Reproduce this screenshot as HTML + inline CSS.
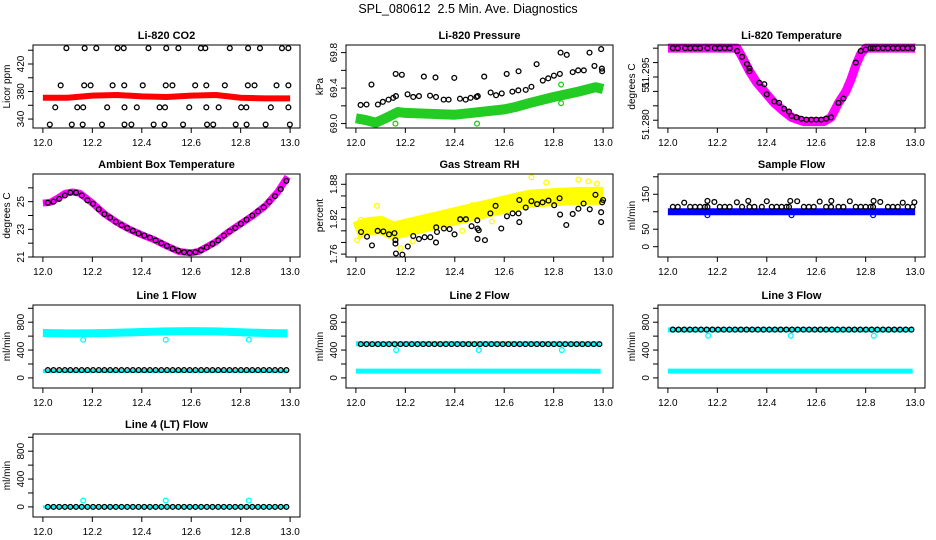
<!DOCTYPE html>
<html><head><meta charset="utf-8"><style>
html,body{margin:0;padding:0;background:#fff;}
svg{display:block;font-family:"Liberation Sans",Arial,sans-serif;}
</style></head><body>
<svg id="c" width="936" height="540" viewBox="0 0 936 540">
<text x="468" y="13" text-anchor="middle" font-size="12.5" style="white-space:pre">SPL_080612  2.5 Min. Ave. Diagnostics</text>
</svg>
<script>
// ---------- data ----------
const xTicks=[12.0,12.2,12.4,12.6,12.8,13.0];
const xTickLabels=["12.0","12.2","12.4","12.6","12.8","13.0"];
const regX=[12.020,12.043,12.066,12.089,12.111,12.134,12.157,12.180,12.203,12.226,12.249,12.272,12.295,12.318,12.341,12.364,12.387,12.410,12.433,12.456,12.479,12.502,12.525,12.548,12.571,12.594,12.617,12.640,12.663,12.686,12.709,12.732,12.755,12.778,12.801,12.824,12.847,12.870,12.893,12.916,12.939,12.962,12.985];

// CO2
const co2BandX=[12.0,12.1,12.2,12.3,12.4,12.5,12.6,12.7,12.8,12.9,13.0];
const co2BandY=[371,371,374,375,373,372,374,375,371,370,370];
const co2PtsX=[12.095,12.169,12.216,12.302,12.327,12.427,12.499,12.548,12.639,12.657,12.756,12.830,12.878,12.967,12.993,
12.072,12.167,12.193,12.282,12.329,12.404,12.497,12.524,12.616,12.661,12.736,12.829,12.856,12.945,12.993,
12.050,12.139,12.163,12.260,12.330,12.380,12.472,12.494,12.592,12.661,12.711,12.802,12.823,12.922,12.993,
12.028,12.117,12.161,12.239,12.330,12.358,12.448,12.492,12.567,12.664,12.689,12.780,12.824,12.901,12.999];
const co2PtsY=[443,443,443,443,443,443,443,443,443,443,443,443,443,443,443,
389,389,389,389,389,389,389,389,389,389,389,389,389,389,389,
357,357,357,357,357,357,357,357,357,357,357,357,357,357,357,
332,332,332,332,332,332,332,332,332,332,332,332,332,332,332];

// Pressure
const presBandX=[12.0,12.04,12.08,12.12,12.17,12.2,12.3,12.4,12.5,12.6,12.65,12.7,12.8,12.9,12.97,13.0];
const presBandY=[69.06,69.04,69.01,69.06,69.13,69.12,69.11,69.10,69.13,69.16,69.19,69.23,69.30,69.36,69.41,69.39];
const presGreenX=[12.16,12.49,12.83,12.83];
const presGreenY=[69.0,69.0,69.23,69.44];
const presPtsX=[12.019,12.043,12.063,12.089,12.109,12.132,12.151,12.162,12.161,12.186,12.209,12.232,12.255,12.275,12.300,12.322,12.324,12.355,12.375,12.398,12.421,12.444,12.464,12.488,12.493,12.519,12.545,12.567,12.590,12.610,12.633,12.657,12.658,12.687,12.710,12.731,12.756,12.778,12.801,12.825,12.828,12.853,12.877,12.899,12.922,12.945,12.965,12.992,12.995,12.996];
const presPtsY=[69.21,69.215,69.44,69.215,69.245,69.27,69.29,69.31,69.56,69.55,69.33,69.30,69.31,69.53,69.315,69.52,69.30,69.27,69.27,69.515,69.28,69.27,69.29,69.30,69.31,69.53,69.35,69.32,69.34,69.56,69.36,69.375,69.59,69.38,69.415,69.67,69.485,69.51,69.54,69.56,69.80,69.775,69.58,69.60,69.60,69.80,69.65,69.84,69.62,69.59];

// Li-820 temperature
const tempBandX=[12.0,12.28,12.30,12.33,12.36,12.40,12.43,12.47,12.50,12.55,12.63,12.66,12.69,12.72,12.74,12.76,12.78,12.80,13.0];
const tempBandY=[51.305,51.305,51.302,51.297,51.293,51.289,51.286,51.283,51.281,51.2795,51.2795,51.281,51.286,51.290,51.294,51.299,51.303,51.305,51.305];
const tempPtsX=[12.02,12.04,12.07,12.09,12.11,12.13,12.16,12.19,12.21,12.23,12.25,12.28,12.30,12.32,12.33,12.33,12.37,12.39,12.40,12.43,12.45,12.47,12.49,12.50,12.52,12.54,12.56,12.58,12.60,12.62,12.64,12.66,12.69,12.71,12.76,12.78,12.80,12.82,12.83,12.85,12.87,12.89,12.91,12.93,12.95,12.97,12.99];
const tempPtsY=[51.305,51.305,51.305,51.305,51.305,51.305,51.305,51.305,51.305,51.305,51.305,51.304,51.302,51.2995,51.298,51.297,51.293,51.2925,51.289,51.2865,51.286,51.284,51.283,51.2815,51.281,51.2805,51.2802,51.2802,51.2802,51.2802,51.2805,51.281,51.286,51.2875,51.300,51.304,51.3045,51.305,51.305,51.305,51.305,51.305,51.305,51.305,51.305,51.305,51.305];

// Ambient box temperature
const ambBandX=[12.0,12.03,12.06,12.09,12.12,12.15,12.2,12.25,12.3,12.35,12.4,12.45,12.5,12.55,12.6,12.63,12.66,12.7,12.75,12.8,12.85,12.9,12.95,12.99];
const ambBandY=[24.9,24.95,25.25,25.6,25.7,25.6,24.9,24.1,23.5,23.0,22.6,22.25,21.8,21.4,21.3,21.4,21.7,22.1,22.8,23.4,24.0,24.7,25.7,26.8];
const ambPtsY=[24.92,25.0,25.2,25.45,25.65,25.65,25.45,25.1,24.85,24.45,24.1,23.85,23.55,23.3,23.1,22.9,22.7,22.55,22.4,22.2,22.0,21.8,21.6,21.45,21.35,21.3,21.35,21.5,21.7,21.95,22.2,22.55,22.85,23.1,23.4,23.7,24.0,24.3,24.6,25.0,25.4,25.9,26.5];

// Gas stream RH
const rhBandX=[12.0,12.05,12.1,12.15,12.2,12.3,12.4,12.5,12.6,12.7,12.8,12.9,13.0];
const rhBandY=[1.800,1.808,1.810,1.800,1.805,1.815,1.825,1.835,1.845,1.855,1.858,1.860,1.860];
const rhYelX=[12.005,12.02,12.085,12.18,12.23,12.30,12.43,12.47,12.55,12.71,12.77,12.90,12.94,12.975];
const rhYelY=[1.784,1.819,1.843,1.770,1.782,1.826,1.800,1.844,1.816,1.892,1.883,1.888,1.885,1.881];
const rhPtsX=[12.021,12.045,12.065,12.088,12.111,12.134,12.156,12.160,12.160,12.162,12.188,12.210,12.232,12.255,12.278,12.301,12.324,12.325,12.328,12.356,12.379,12.399,12.422,12.445,12.468,12.491,12.492,12.497,12.492,12.522,12.544,12.565,12.588,12.611,12.634,12.658,12.661,12.661,12.687,12.710,12.733,12.755,12.779,12.802,12.824,12.826,12.851,12.877,12.900,12.921,12.946,12.969,12.992,12.992,12.996,13.0];
const rhPtsY=[1.798,1.790,1.775,1.800,1.799,1.794,1.796,1.784,1.778,1.761,1.759,1.773,1.791,1.786,1.789,1.789,1.780,1.806,1.798,1.804,1.803,1.794,1.820,1.820,1.808,1.818,1.804,1.801,1.786,1.784,1.830,1.843,1.804,1.825,1.830,1.830,1.815,1.853,1.840,1.851,1.846,1.849,1.852,1.844,1.856,1.828,1.810,1.829,1.838,1.847,1.837,1.862,1.832,1.815,1.849,1.853];

// Sample flow
const sampBandX=[12.0,12.25,12.5,12.75,13.0];
const sampBandY=[100,100,100,100,100];
const sampBlueX=[12.16,12.50,12.83];
const sampBlueY=[90,90,90];
const sampHiX=[12.066,12.160,12.188,12.279,12.325,12.400,12.495,12.523,12.614,12.661,12.736,12.832,12.859,12.950,12.997];
const sampHiY=[126,131,128,127,131,130,131,130,129,131,130,131,128,126,127];
const sampLoX=[12.02,12.04,12.09,12.11,12.13,12.15,12.16,12.21,12.23,12.25,12.30,12.33,12.35,12.38,12.42,12.44,12.46,12.48,12.49,12.55,12.57,12.59,12.64,12.66,12.69,12.71,12.76,12.78,12.80,12.82,12.83,12.89,12.91,12.93,12.97,12.99];
const sampLoY=[114,114,114,114,114,114,114,114,114,114,114,114,114,114,114,114,114,114,114,114,114,114,114,114,114,114,114,114,114,114,114,114,114,114,114,114];

// Line flows
const flowBandX=[12.0,12.1,12.2,12.3,12.4,12.5,12.6,12.7,12.8,12.9,12.99];
const line1HiBand=[645,640,642,648,660,668,672,668,655,645,640];
const line1LoBand=[100,100,100,100,100,100,100,100,100,100,95];
const line1Black=[112,112,112,112,112,112,112,112,112,112,112,112,112,112,112,112,112,112,112,112,112,112,112,112,112,112,112,112,112,112,112,112,112,112,112,112,112,112,112,112,112,112,112];
const line1OutX=[12.163,12.497,12.833];
const line1OutY=[548,548,548];
const line2HiBand=[490,488,490,492,492,492,492,492,490,488,488];
const line2LoBand=[98,98,98,98,98,98,98,98,98,98,95];
const line2Black=[485,485,485,485,485,485,485,485,485,485,485,485,485,485,485,485,485,485,485,485,485,485,485,485,485,485,485,485,485,485,485,485,485,485,485,485,485,485,485,485,485,485,485];
const line2OutX=[12.163,12.497,12.833];
const line2OutY=[400,400,400];
const line3HiBand=[690,690,690,692,692,692,692,690,690,690,690];
const line3LoBand=[98,98,98,98,98,98,98,98,98,98,98];
const line3Black=[694,694,694,694,694,694,694,694,694,694,694,694,694,694,694,694,694,694,694,694,694,694,694,694,694,694,694,694,694,694,694,694,694,694,694,694,694,694,694,694,694,694,694];
const line3OutX=[12.163,12.497,12.833];
const line3OutY=[606,606,606];
const line4Band=[0,0,0,0,0,0,0,0,0,0,0];
const line4Black=[0,0,0,0,0,0,0,0,0,0,0,0,0,0,0,0,0,0,0,0,0,0,0,0,0,0,0,0,0,0,0,0,0,0,0,0,0,0,0,0,0,0,0];
const line4OutX=[12.163,12.497,12.833];
const line4OutY=[92,92,92];

// ---------- drawing ----------
const NS="http://www.w3.org/2000/svg";
const svg=document.getElementById('c');
const COLX=[33,346,658], ROWY=[45,174,305,434], BW=267, BH=83;
function el(tag,parent){const e=document.createElementNS(NS,tag);parent.appendChild(e);return e;}

function makePanel(key,title,col,row,ylim,yTicks,yLabels,yTitle){
  const x0=COLX[col], y0=ROWY[row];
  const g=el('g',svg);
  
  
  const sx=v=>x0+(v-11.96)/1.08*BW;
  const sy=v=>y0+BH-(v-ylim[0])/(ylim[1]-ylim[0])*BH;
  const t=el('text',g);
  
  
  t.setAttribute('x',x0+BW/2);t.setAttribute('y',y0-6);t.setAttribute('text-anchor','middle');
  t.setAttribute('font-size','11');t.setAttribute('font-weight','bold');t.textContent=title;
  const plot=el('g',g);
  
  
  const box=el('rect',g);
  
  
  box.setAttribute('x',x0);box.setAttribute('y',y0);box.setAttribute('width',BW);box.setAttribute('height',BH);
  box.setAttribute('fill','none');box.setAttribute('stroke','#000');box.setAttribute('stroke-width','1');
  const xa=el('g',g);
  
  
  xTicks.forEach((v,i)=>{
    const l=el('line',xa);
    
    
    l.setAttribute('x1',sx(v));l.setAttribute('x2',sx(v));l.setAttribute('y1',y0+BH);l.setAttribute('y2',y0+BH+5);l.setAttribute('stroke','#000');
    const tt=el('text',xa);
    
    
    tt.setAttribute('x',sx(v));tt.setAttribute('y',y0+BH+18);tt.setAttribute('text-anchor','middle');tt.setAttribute('font-size','10');
    tt.textContent=xTickLabels[i];
  });
  const ya=el('g',g);
  
  
  yTicks.forEach(v=>{
    const l=el('line',ya);
    
    
    l.setAttribute('x1',x0);l.setAttribute('x2',x0-5);l.setAttribute('y1',sy(v));l.setAttribute('y2',sy(v));l.setAttribute('stroke','#000');
  });
  yLabels.forEach(p=>{
    const tt=el('text',ya);
    
    
    const yy=sy(p[0]);
    tt.setAttribute('transform','translate('+(x0-9)+','+yy+') rotate(-90)');
    tt.setAttribute('text-anchor','middle');tt.setAttribute('font-size','10');
    tt.textContent=p[1];
  });
  const yt=el('text',g);
  
  
  yt.setAttribute('transform','translate('+(x0-23)+','+(y0+BH/2)+') rotate(-90)');
  yt.setAttribute('text-anchor','middle');yt.setAttribute('font-size','10');yt.textContent=yTitle;
  return {sx,sy,g:plot};
}
function band(p,name,xs,ys,color,w){
  const pl=el('polyline',p.g);
  
  
  pl.setAttribute('points',xs.map((x,i)=>p.sx(x)+','+p.sy(ys[i])).join(' '));
  pl.setAttribute('fill','none');pl.setAttribute('stroke',color);pl.setAttribute('stroke-width',w);
  pl.setAttribute('stroke-linejoin','round');pl.setAttribute('stroke-linecap','butt');
}
function pts(p,name,xs,ys,color,r){
  const gg=el('g',p.g);
  
  
  xs.forEach((x,i)=>{
    const c=el('circle',gg);
    
    
    c.setAttribute('cx',p.sx(x));c.setAttribute('cy',p.sy(ys[i]));c.setAttribute('r',r||2.4);
    c.setAttribute('fill','none');c.setAttribute('stroke',color);c.setAttribute('stroke-width','1.3');
  });
}
const L=a=>a.map(v=>[v,String(v)]);
const flowTicks=[0,200,400,600,800,1000];
const flowLabels=[[0,"0"],[400,"400"],[800,"800"]];

let p;
p=makePanel('co2','Li-820 CO2',0,0,[327,447.6],[340,360,380,400,420,440],L([340,380,420]),'Licor ppm');
band(p,'co2-series',co2BandX,co2BandY,'#ff0000',6);
pts(p,'co2-reference-points',co2PtsX,co2PtsY,'#000');

p=makePanel('pressure','Li-820 Pressure',1,0,[68.95,69.886],[69.0,69.2,69.4,69.6,69.8],[[69.0,"69.0"],[69.4,"69.4"],[69.8,"69.8"]],'kPa');
band(p,'pressure-series',presBandX,presBandY,'#22cc22',10);
pts(p,'pressure-outliers',presGreenX,presGreenY,'#22cc22');
pts(p,'pressure-reference-points',presPtsX,presPtsY,'#000');

p=makePanel('temperature','Li-820 Temperature',2,0,[51.2773,51.3061],[51.280,51.285,51.290,51.295,51.300,51.305],[[51.2785,"51.280"],[51.2915,"51"],[51.2965,"51.295"]],'degrees C');
band(p,'temperature-series',tempBandX,tempBandY,'#ff00ff',9);
pts(p,'temperature-reference-points',tempPtsX,tempPtsY,'#000');

p=makePanel('ambient','Ambient Box Temperature',0,1,[21.0,27.0],[21,22,23,24,25,26],L([21,23,25]),'degrees C');
band(p,'ambient-series',ambBandX,ambBandY,'#ff00ff',7);
pts(p,'ambient-reference-points',regX,ambPtsY,'#000');

p=makePanel('rh','Gas Stream RH',1,1,[1.755,1.8977],[1.76,1.78,1.80,1.82,1.84,1.86,1.88],[[1.76,"1.76"],[1.82,"1.82"],[1.88,"1.88"]],'percent');
band(p,'rh-series',rhBandX,rhBandY,'#ffff00',18);
pts(p,'rh-outliers',rhYelX,rhYelY,'#ffff00');
pts(p,'rh-reference-points',rhPtsX,rhPtsY,'#000');

p=makePanel('sample-flow','Sample Flow',2,1,[-29.5,208],[0,50,100,150,200],L([0,50,150]),'ml/min');
band(p,'sample-flow-series',sampBandX,sampBandY,'#0000ff',7);
pts(p,'sample-flow-outliers',sampBlueX,sampBlueY,'#0000ff');
pts(p,'sample-flow-high-points',sampHiX,sampHiY,'#000');
pts(p,'sample-flow-low-points',sampLoX,sampLoY,'#000');

p=makePanel('line1','Line 1 Flow',0,2,[-145,1047],flowTicks,flowLabels,'ml/min');
band(p,'line1-high-series',flowBandX,line1HiBand,'#00ffff',8);
band(p,'line1-low-series',flowBandX,line1LoBand,'#00ffff',4);
pts(p,'line1-outliers',line1OutX,line1OutY,'#00ffff');
pts(p,'line1-reference-points',regX,line1Black,'#000');

p=makePanel('line2','Line 2 Flow',1,2,[-145,1047],flowTicks,flowLabels,'ml/min');
band(p,'line2-low-series',flowBandX,line2LoBand,'#00ffff',5);
band(p,'line2-high-series',flowBandX,line2HiBand,'#00ffff',5);
pts(p,'line2-outliers',line2OutX,line2OutY,'#00ffff');
pts(p,'line2-reference-points',regX,line2Black,'#000');

p=makePanel('line3','Line 3 Flow',2,2,[-145,1047],flowTicks,flowLabels,'ml/min');
band(p,'line3-low-series',flowBandX,line3LoBand,'#00ffff',5);
band(p,'line3-high-series',flowBandX,line3HiBand,'#00ffff',5);
pts(p,'line3-outliers',line3OutX,line3OutY,'#00ffff');
pts(p,'line3-reference-points',regX,line3Black,'#000');

p=makePanel('line4','Line 4 (LT) Flow',0,3,[-145,1047],flowTicks,flowLabels,'ml/min');
band(p,'line4-series',flowBandX,line4Band,'#00ffff',3);
pts(p,'line4-outliers',line4OutX,line4OutY,'#00ffff');
pts(p,'line4-reference-points',regX,line4Black,'#000');
</script>
</body></html>
